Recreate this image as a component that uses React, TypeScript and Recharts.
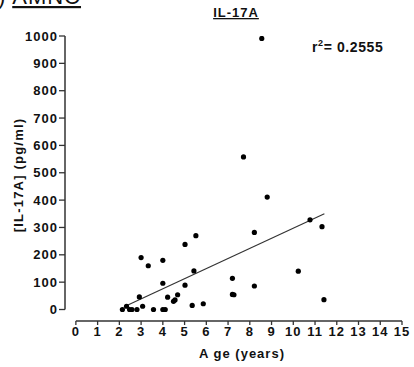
import { ReferenceLine, Scatter, ScatterChart, XAxis, YAxis } from "recharts";

// age (years) and IL-17A (pg/ml) per subject
const AGES = [
  2.14, 2.33, 2.47, 2.58, 2.81, 2.92, 3.0, 3.07, 3.33, 3.57, 4.0, 4.0, 4.0, 4.11, 4.22, 4.49, 4.56, 4.68,
  5.02, 5.02, 5.35, 5.43, 5.52, 5.86, 7.2, 7.2, 7.27, 7.71, 8.21, 8.21, 8.55, 8.8, 10.23, 10.77, 11.32, 11.41,
];
const IL17A = [
  0, 12, 0, 0, 0, 46, 190, 12, 160, 0, 180, 96, 0, 0, 45, 30, 35, 54,
  238, 89, 15, 141, 270, 21, 114, 55, 54, 558, 282, 86, 991, 411, 140, 328, 303, 36,
];

const X_TICKS = [0, 1, 2, 3, 4, 5, 6, 7, 8, 9, 10, 11, 12, 13, 14, 15];
const Y_TICKS = [0, 100, 200, 300, 400, 500, 600, 700, 800, 900, 1000];

// linear fit endpoints
const FIT_AGES = [2.27, 11.43];
const FIT_VALUES = [12, 350];
const R_SQUARED = "0.2555";

const X_MIN = -0.5;
const Y_MIN = -42;

const FONT = "'Liberation Sans', Arial, sans-serif";
const INK = "#111";
const AXIS = "#333";

const points = AGES.map((age, i) => ({ age, value: IL17A[i] }));

const tickStyle = { fill: INK, fontSize: 13, fontWeight: "bold" as const, fontFamily: FONT, letterSpacing: 1 };

function Dot(props: any) {
  if (props.cx == null || props.cy == null) return null;
  return <circle cx={props.cx} cy={props.cy} r={2.6} fill="#000" />;
}

export default function App() {
  return (
    <div style={{ position: "fixed", left: 0, top: 0, width: 414, height: 367, background: "#fff", fontFamily: FONT }}>
      <ScatterChart width={414} height={367} margin={{ top: 36, right: 12, bottom: 16, left: 5 }}>
        <XAxis
          type="number"
          dataKey="age"
          domain={[X_MIN, 15]}
          ticks={X_TICKS}
          interval={0}
          allowDataOverflow
          axisLine={false}
          tickLine={{ stroke: AXIS, strokeWidth: 1.3 }}
          tickSize={4}
          tickMargin={2}
          height={30}
          tick={tickStyle}
        />
        <YAxis
          type="number"
          dataKey="value"
          domain={[Y_MIN, 1000]}
          ticks={Y_TICKS}
          interval={0}
          allowDataOverflow
          axisLine={false}
          tickLine={{ stroke: AXIS, strokeWidth: 1.3 }}
          tickSize={6}
          tickMargin={1}
          width={60}
          tick={tickStyle}
        />
        <ReferenceLine
          segment={[{ x: X_MIN, y: 0 }, { x: X_MIN, y: 1000 }]}
          stroke={AXIS}
          strokeWidth={1.5}
          ifOverflow="visible"
        />
        <ReferenceLine
          segment={[{ x: 0, y: Y_MIN }, { x: 15, y: Y_MIN }]}
          stroke={AXIS}
          strokeWidth={1.5}
          ifOverflow="visible"
        />
        <ReferenceLine
          segment={[{ x: FIT_AGES[0], y: FIT_VALUES[0] }, { x: FIT_AGES[1], y: FIT_VALUES[1] }]}
          stroke="#333"
          strokeWidth={1.2}
          ifOverflow="visible"
        />
        <Scatter data={points} shape={<Dot />} isAnimationActive={false} />
      </ScatterChart>
      <svg
        width={414}
        height={367}
        style={{ position: "absolute", left: 0, top: 0, pointerEvents: "none", fontFamily: FONT }}
      >
        <text x={-2} y={4} fontSize={22} fill={INK} letterSpacing={1}>
          ) <tspan textDecoration="underline">AMNC</tspan>
        </text>
        <text x={236} y={17} fontSize={13} fontWeight="bold" fill={INK} textAnchor="middle" letterSpacing={1} textDecoration="underline">
          IL-17A
        </text>
        <text x={312} y={52} fontSize={14} fontWeight="bold" fill={INK} letterSpacing={0.6}>
          r<tspan fontSize={9} dy={-6}>2</tspan>
          <tspan dy={6}>= {R_SQUARED}</tspan>
        </text>
        <text
          x={0}
          y={0}
          transform="translate(23,175) rotate(-90)"
          fontSize={13}
          fontWeight="bold"
          fill={INK}
          textAnchor="middle"
          letterSpacing={1.2}
        >
          [IL-17A] (pg/ml)
        </text>
        <text x={242} y={358} fontSize={13} fontWeight="bold" fill={INK} textAnchor="middle" letterSpacing={1}>
          A ge (years)
        </text>
      </svg>
    </div>
  );
}
